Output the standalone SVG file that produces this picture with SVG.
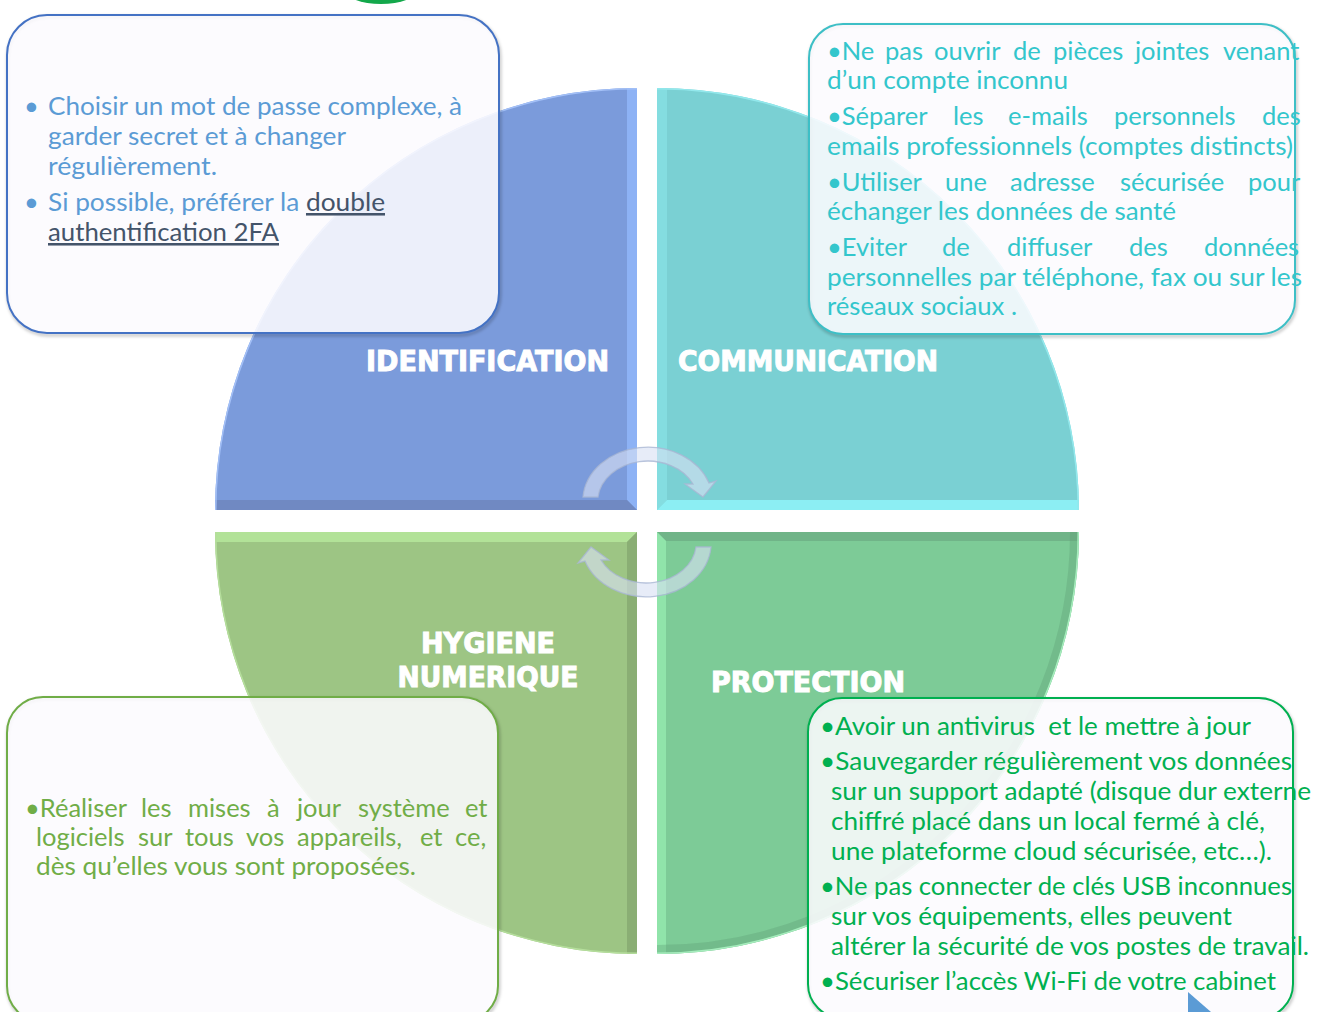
<svg xmlns="http://www.w3.org/2000/svg" width="1317" height="1012" viewBox="0 0 1317 1012">
<style>
  .lbl { font-family: "DejaVu Sans", "Liberation Sans", sans-serif; font-weight: bold; font-size: 28px; fill: #FFFFFF; stroke: #FFFFFF; stroke-width: 1; }
  .body { font-family: Lato, "Open Sans", "Liberation Sans", sans-serif; font-size: 25.5px; }
  .tl { fill: #5B9BD5; }
  .tr { fill: #33C6CC; }
  .br { fill: #00B050; }
  .bl { fill: #70AD47; }
  .dk { fill: #44546A; }
  .box { fill: #FCFAFE; fill-opacity: 0.88; stroke-width: 2; }
  .shadow { fill: none; stroke: #000000; stroke-opacity: 0.22; stroke-width: 3; filter: url(#blur); }
  .arrow { fill: #D9E1F3; fill-opacity: 0.62; stroke: #A9B6D3; stroke-opacity: 0.8; stroke-width: 1.3; }
  .rim { fill: none; stroke-width: 3; }
</style>
<defs>
  <filter id="blur" x="-5%" y="-5%" width="110%" height="110%"><feGaussianBlur stdDeviation="1.5"/></filter>
  <clipPath id="cTL"><path d="M637,88 A422,422 0 0 0 215,510 L637,510 Z"/></clipPath>
  <clipPath id="cTR"><path d="M657,88 A422,422 0 0 1 1079,510 L657,510 Z"/></clipPath>
  <clipPath id="cBL"><path d="M637,954 A422,422 0 0 1 215,532 L637,532 Z"/></clipPath>
  <clipPath id="cBR"><path d="M657,954 A422,422 0 0 0 1079,532 L657,532 Z"/></clipPath>
</defs>

<rect width="1317" height="1012" fill="#FFFFFF"/>

<!-- small green shape at top edge -->
<ellipse cx="381" cy="-10" rx="36" ry="14" fill="#13A84B"/>

<!-- quadrants -->
<g id="q-identification">
  <path d="M637,88 A422,422 0 0 0 215,510 L637,510 Z" fill="#7B9BDB"/>
  <g clip-path="url(#cTL)">
    <polygon points="627,60 637,60 637,510 627,500" fill="#8DB2F5"/>
    <polygon points="190,500 627,500 637,510 190,510" fill="#7089C2"/>
    <path class="rim" d="M637,88 A422,422 0 0 0 215,510" stroke="#A3C0F7"/>
  </g>
  <text class="lbl" x="366" y="371" textLength="243" lengthAdjust="spacingAndGlyphs">IDENTIFICATION</text>
</g>

<g id="q-communication">
  <path d="M657,88 A422,422 0 0 1 1079,510 L657,510 Z" fill="#7AD0D3"/>
  <g clip-path="url(#cTR)">
    <polygon points="657,60 667,60 667,500 657,510" fill="#84DDE0"/>
    <polygon points="657,510 667,500 1100,500 1100,510" fill="#8CEEF3"/>
    <path class="rim" d="M657,88 A422,422 0 0 1 1079,510" stroke="#93E8EC"/>
  </g>
  <text class="lbl" x="678" y="371" textLength="260" lengthAdjust="spacingAndGlyphs">COMMUNICATION</text>
</g>

<g id="q-hygiene">
  <path d="M637,954 A422,422 0 0 1 215,532 L637,532 Z" fill="#9DC584"/>
  <g clip-path="url(#cBL)">
    <polygon points="190,532 637,532 627,542 190,542" fill="#B2E298"/>
    <polygon points="627,542 637,532 637,980 627,980" fill="#8AAE74"/>
    <path class="rim" d="M637,954 A422,422 0 0 1 215,532" stroke="#B5DE9C"/>
  </g>
  <text class="lbl" x="488" y="653" text-anchor="middle" textLength="134" lengthAdjust="spacingAndGlyphs">HYGIENE</text>
  <text class="lbl" x="488" y="687" text-anchor="middle" textLength="181" lengthAdjust="spacingAndGlyphs">NUMERIQUE</text>
</g>

<g id="q-protection">
  <path d="M657,954 A422,422 0 0 0 1079,532 L657,532 Z" fill="#7DCB97"/>
  <g clip-path="url(#cBR)">
    <polygon points="657,532 1100,532 1100,541 666,541" fill="#70B488"/>
    <polygon points="657,532 666,541 666,980 657,980" fill="#90E4AA"/>
    <path d="M657,954 A422,422 0 0 0 1079,532" fill="none" stroke="#5E9F75" stroke-opacity="0.35" stroke-width="18"/>
    <path class="rim" d="M657,954 A422,422 0 0 0 1079,532" stroke="#A6EDBD"/>
  </g>
  <text class="lbl" x="711" y="692" textLength="194" lengthAdjust="spacingAndGlyphs">PROTECTION</text>
</g>

<!-- cycle arrows -->
<g id="connectors">
  <path class="arrow" d="M583,497 A65,54 0 0 1 709,483 L716,481 L703,497 L685,484 L693,484 A50,40 0 0 0 598,497 Z"/>
  <path class="arrow" d="M711,547 A65,54 0 0 1 585,561 L578,563 L591,547 L609,560 L601,560 A50,40 0 0 0 696,547 Z"/>
</g>

<!-- text boxes -->
<g id="box-identification">
  <rect class="shadow" x="8" y="17" width="492" height="318" rx="40"/>
  <rect class="box" x="7" y="15" width="492" height="318" rx="40" stroke="#4472C4"/>
  <g class="body tl">
    <text x="24" y="115">•</text>
    <text x="48" y="115" textLength="414" lengthAdjust="spacingAndGlyphs">Choisir un mot de passe complexe, à</text>
    <text x="48" y="145" textLength="298" lengthAdjust="spacingAndGlyphs">garder secret et à changer</text>
    <text x="48" y="175" textLength="169" lengthAdjust="spacingAndGlyphs">régulièrement.</text>
    <text x="24" y="211">•</text>
    <text x="48" y="211" textLength="337" lengthAdjust="spacingAndGlyphs">Si possible, préférer la <tspan class="dk" text-decoration="underline">double</tspan></text>
    <text class="dk" x="48" y="241" text-decoration="underline" textLength="231" lengthAdjust="spacingAndGlyphs">authentification 2FA</text>
  </g>
</g>

<g id="box-communication">
  <rect class="shadow" x="810" y="26" width="486" height="310" rx="34"/>
  <rect class="box" x="809" y="24" width="486" height="310" rx="34" stroke="#3DBFC6"/>
  <g class="body tr">
    <text y="60"><tspan x="827">•Ne</tspan><tspan x="885">pas</tspan><tspan x="934">ouvrir</tspan><tspan x="1013">de</tspan><tspan x="1053">pièces</tspan><tspan x="1135">jointes</tspan><tspan x="1223">venant</tspan></text>
    <text x="827" y="89" textLength="241" lengthAdjust="spacingAndGlyphs">d’un compte inconnu</text>
    <text y="125"><tspan x="827">•Séparer</tspan><tspan x="953">les</tspan><tspan x="1008">e-mails</tspan><tspan x="1114">personnels</tspan><tspan x="1262">des</tspan></text>
    <text x="827" y="155" textLength="466" lengthAdjust="spacingAndGlyphs">emails professionnels (comptes distincts)</text>
    <text y="191"><tspan x="827">•Utiliser</tspan><tspan x="945">une</tspan><tspan x="1010">adresse</tspan><tspan x="1120">sécurisée</tspan><tspan x="1248">pour</tspan></text>
    <text x="827" y="220" textLength="349" lengthAdjust="spacingAndGlyphs">échanger les données de santé</text>
    <text y="256"><tspan x="827">•Eviter</tspan><tspan x="942">de</tspan><tspan x="1007">diffuser</tspan><tspan x="1129">des</tspan><tspan x="1204">données</tspan></text>
    <text x="827" y="286" textLength="475" lengthAdjust="spacingAndGlyphs">personnelles par téléphone, fax ou sur les</text>
    <text x="827" y="315" textLength="190" lengthAdjust="spacingAndGlyphs">réseaux sociaux .</text>
  </g>
</g>

<g id="box-hygiene">
  <rect class="shadow" x="8" y="699" width="491" height="325" rx="36"/>
  <rect class="box" x="7" y="697" width="491" height="325" rx="36" stroke="#70AD47"/>
  <g class="body bl">
    <text y="817"><tspan x="25">•Réaliser</tspan><tspan x="141">les</tspan><tspan x="188">mises</tspan><tspan x="267">à</tspan><tspan x="297">jour</tspan><tspan x="358">système</tspan><tspan x="465">et</tspan></text>
    <text y="846"><tspan x="36">logiciels</tspan><tspan x="138">sur</tspan><tspan x="185">tous</tspan><tspan x="246">vos</tspan><tspan x="297">appareils,</tspan><tspan x="420">et</tspan><tspan x="455">ce,</tspan></text>
    <text x="36" y="875" textLength="380" lengthAdjust="spacingAndGlyphs">dès qu’elles vous sont proposées.</text>
  </g>
</g>

<g id="box-protection">
  <rect class="shadow" x="809" y="700" width="485" height="320" rx="34"/>
  <rect class="box" x="808" y="698" width="485" height="320" rx="34" stroke="#00B050"/>
  <g class="body br">
    <text x="820" y="735" xml:space="preserve" textLength="431" lengthAdjust="spacingAndGlyphs">•Avoir un antivirus  et le mettre à jour</text>
    <text x="820" y="770" textLength="472" lengthAdjust="spacingAndGlyphs">•Sauvegarder régulièrement vos données</text>
    <text x="831" y="800" textLength="480" lengthAdjust="spacingAndGlyphs">sur un support adapté (disque dur externe</text>
    <text x="831" y="830" textLength="434" lengthAdjust="spacingAndGlyphs">chiffré placé dans un local fermé à clé,</text>
    <text x="831" y="860" textLength="441" lengthAdjust="spacingAndGlyphs">une plateforme cloud sécurisée, etc…).</text>
    <text x="820" y="895" textLength="472" lengthAdjust="spacingAndGlyphs">•Ne pas connecter de clés USB inconnues</text>
    <text x="831" y="925" textLength="401" lengthAdjust="spacingAndGlyphs">sur vos équipements, elles peuvent</text>
    <text x="831" y="955" textLength="478" lengthAdjust="spacingAndGlyphs">altérer la sécurité de vos postes de travail.</text>
    <text x="820" y="990" textLength="456" lengthAdjust="spacingAndGlyphs">•Sécuriser l’accès Wi-Fi de votre cabinet</text>
  </g>
</g>

<!-- small blue triangle at bottom -->
<polygon points="1188,992 1211,1012 1188,1012" fill="#5B9BD5"/>
</svg>
